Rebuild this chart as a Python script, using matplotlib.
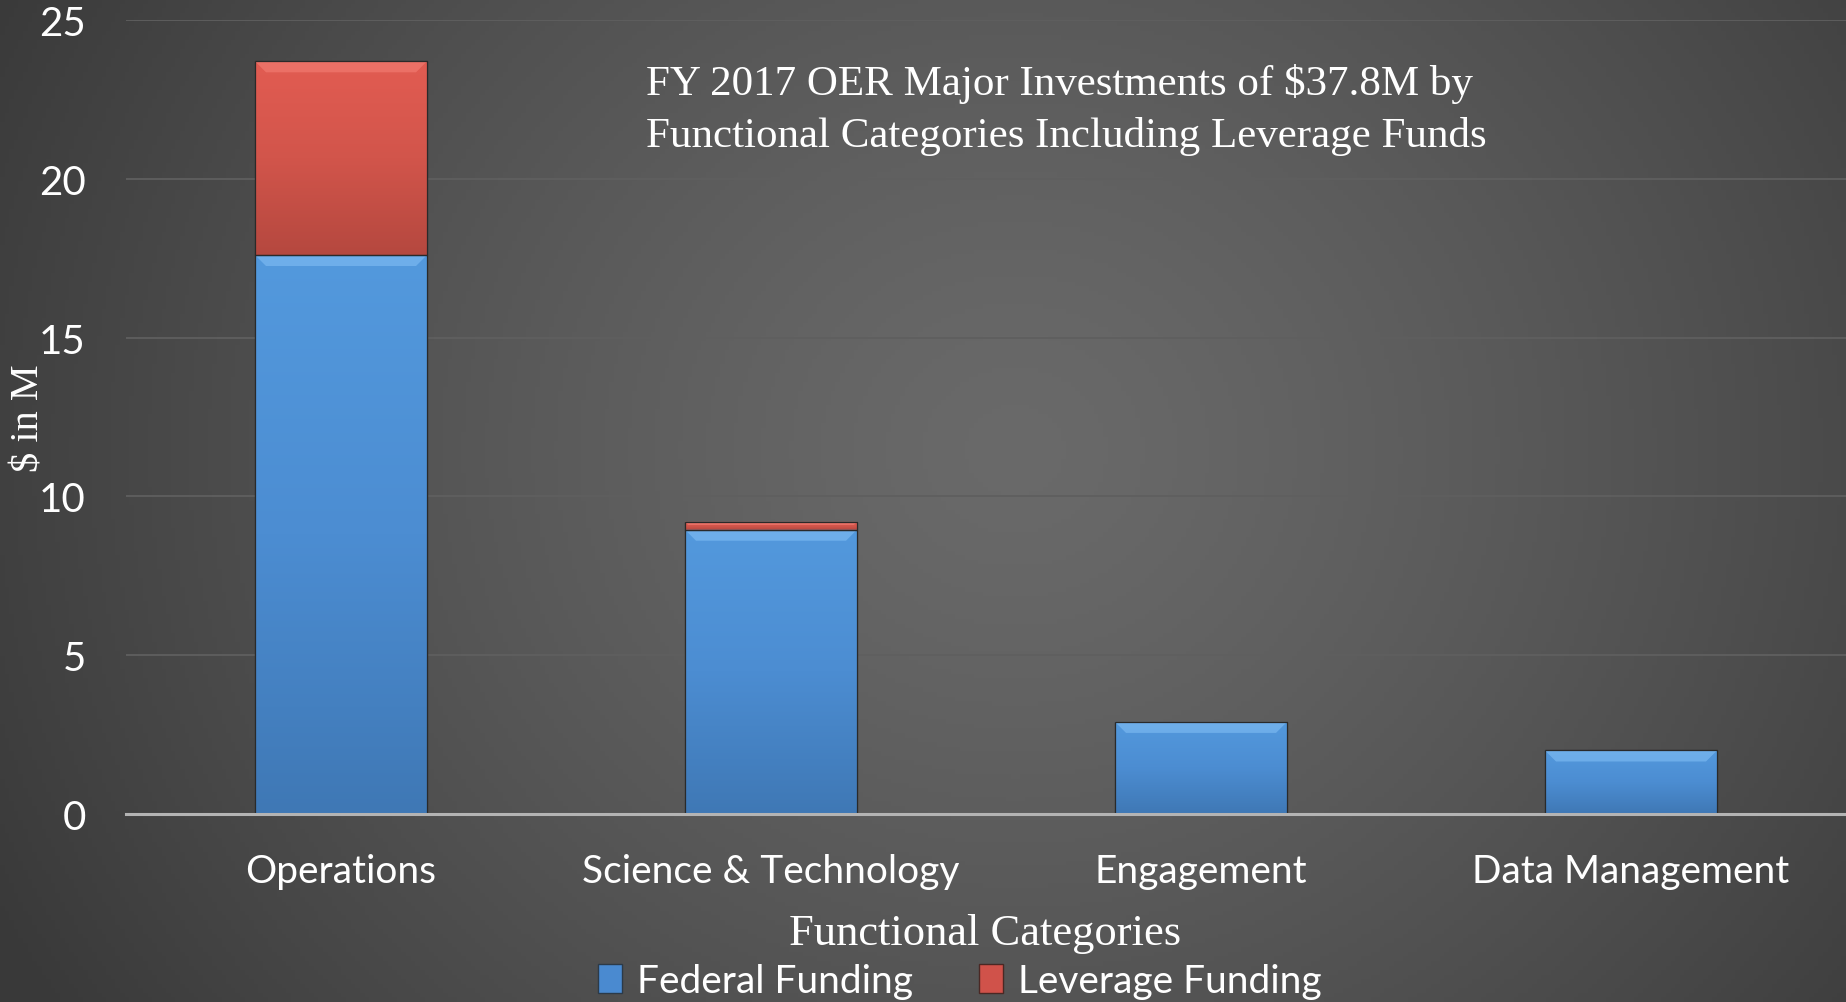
import numpy as np
import matplotlib
matplotlib.use("Agg")
import matplotlib.pyplot as plt
from matplotlib.patches import Polygon, Patch
from matplotlib.colors import LinearSegmentedColormap

# ---- data ----
categories = ["Operations", "Science & Technology", "Engagement", "Data Management"]
federal = [17.6, 8.95, 2.9, 2.0]
leverage = [6.1, 0.25, 0.0, 0.0]
yticks = [0, 5, 10, 15, 20, 25]
title = "FY 2017 OER Major Investments of $37.8M by\nFunctional Categories Including Leverage Funds"
xlabel = "Functional Categories"
ylabel = "$ in M"
series_names = ["Federal Funding", "Leverage Funding"]

W, H, DPI = 1846, 1003, 100
fig = plt.figure(figsize=(W / DPI, H / DPI), dpi=DPI)

# ---- radial gradient background ----
bg = fig.add_axes([0, 0, 1, 1], zorder=-10)
gx, gy = np.meshgrid(np.linspace(0, 1, 400), np.linspace(0, 1, 220))
cx, cy = 0.55, 0.55
r = np.sqrt(((gx - cx) * 1.0) ** 2 + ((gy - cy) * 0.6) ** 2) / 0.62
r = np.clip(r, 0, 1)
c_center, c_edge = 0.415, 0.225
val = c_edge + (c_center - c_edge) * (1 - r ** 1.3)
img = np.dstack([val, val, val])
bg.imshow(img, extent=(0, 1, 0, 1), origin="lower", aspect="auto")
bg.set_axis_off()

ax = fig.add_axes([126 / W, 1 - 815 / H, 1 - 126 / W, (815 - 21) / H])
ax.patch.set_alpha(0)
x = np.arange(len(categories))
bw = 0.4
b1 = ax.bar(x, federal, bw, color="#4d8fd4", edgecolor="#2c3a48", linewidth=0.8, zorder=3,
            label=series_names[0])
b2 = ax.bar(x, leverage, bw, bottom=federal, color="#d5534a", edgecolor="#4a2824", linewidth=0.8,
            zorder=3, label=series_names[1])

ax.set_xlim(-0.5, len(categories) - 0.5)
ax.set_ylim(0, 25)
ax.set_yticks(yticks)
ax.yaxis.grid(True, color="#5f5f5f", linewidth=1.3, zorder=0)
ax.set_axisbelow(True)
for s in ["top", "right", "left"]:
    ax.spines[s].set_visible(False)
ax.spines["bottom"].set_color("#b4b4b4")
ax.spines["bottom"].set_linewidth(2.2)
ax.spines["bottom"].set_zorder(5)
ax.tick_params(axis="both", length=0, colors="white")
ax.set_xticks(x)
ax.set_xticklabels(categories, fontsize=28, family="Lato", color="white")
for lab in ax.get_yticklabels():
    lab.set_fontsize(29)
    lab.set_family("Lato")
ax.tick_params(axis="y", pad=29)
ax.tick_params(axis="x", pad=28)

blue_cmap = LinearSegmentedColormap.from_list("b", ["#3f78b5", "#4c8dd2", "#5399dd"])
red_cmap = LinearSegmentedColormap.from_list("r", ["#b5483f", "#d2554b", "#e25c52"])

fig.canvas.draw()
px_per_y = ax.transData.transform((0, 1))[1] - ax.transData.transform((0, 0))[1]
px_per_x = ax.transData.transform((1, 0))[0] - ax.transData.transform((0, 0))[0]


def shade(bars, cmap, light):
    for p in bars:
        h = p.get_height()
        if h <= 0:
            continue
        x0, y0, w = p.get_x(), p.get_y(), p.get_width()
        grad = np.linspace(0, 1, 256).reshape(-1, 1)
        im = ax.imshow(grad, extent=(x0, x0 + w, y0, y0 + h), origin="lower", cmap=cmap,
                       aspect="auto", zorder=3.5)
        im.set_clip_path(p)
        bev_px = min(11, 0.4 * h * px_per_y)
        dy = bev_px / px_per_y
        dx = bev_px / px_per_x
        top = y0 + h
        poly = Polygon([(x0, top), (x0 + w, top), (x0 + w - dx, top - dy), (x0 + dx, top - dy)],
                       closed=True, facecolor=light, edgecolor="none", alpha=0.7, zorder=3.7)
        ax.add_patch(poly)
        ax.add_patch(Polygon([(x0, y0), (x0 + w, y0), (x0 + w, y0 + h), (x0, y0 + h)], closed=True,
                             facecolor="none", edgecolor="#2a2a2a", linewidth=0.9, zorder=3.8))


shade(b1, blue_cmap, "#7ab8f0")
shade(b2, red_cmap, "#f07a70")
ax.set_xlim(-0.5, len(categories) - 0.5)
ax.set_ylim(0, 25)

# titles and labels
fig.text(646 / W, 1 - 110 / H, title, fontsize=31, family="Liberation Serif", color="white",
         ha="left", va="center", linespacing=1.42)
fig.text(985 / W, 1 - 934 / H, xlabel, fontsize=32, family="Liberation Serif", color="white",
         ha="center", va="center")
fig.text(29 / W, 1 - 418 / H, ylabel, fontsize=29, family="Liberation Serif", color="white",
         ha="center", va="center", rotation=90)

handles = [Patch(facecolor="#4a8ad0", edgecolor="#2c3a48"), Patch(facecolor="#d0524a", edgecolor="#4a2824")]
leg = fig.legend(handles, series_names, loc="center", bbox_to_anchor=(960 / W, 1 - 982 / H), ncol=2,
                 frameon=False, prop={"family": "Lato", "size": 28}, labelcolor="white",
                 handlelength=0.6, handleheight=0.8, handletextpad=0.4, columnspacing=1.7,
                 borderaxespad=0)

fig.savefig("out.png", dpi=DPI)
